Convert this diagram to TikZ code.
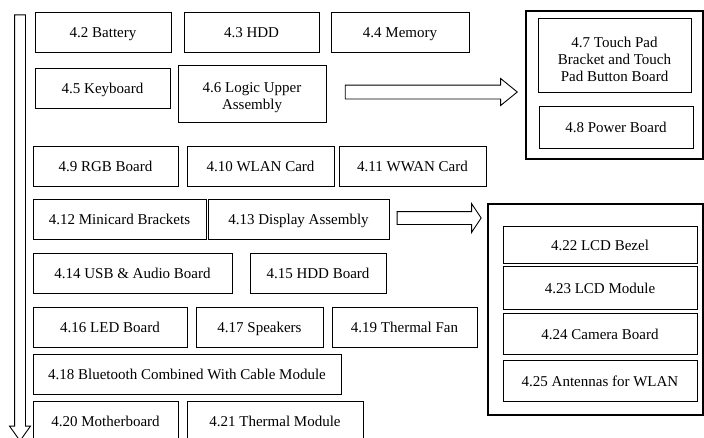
\documentclass[tikz,border=0pt]{standalone}
\usepackage{fontspec}
\setmainfont{Liberation Serif}
\usepackage{tikz}
\usetikzlibrary{arrows.meta,positioning,shapes.arrows}

\begin{document}
\begin{tikzpicture}[x=1pt, y=-1pt,
    font=\fontsize{15}{17}\selectfont,
    part/.style={draw, line width=0.9pt, minimum height=40pt, inner sep=2pt, text height=13pt, text depth=2pt},
    tallpart/.style={draw, line width=0.9pt, inner sep=2pt, align=center},
    group/.style={draw, line width=1.2pt, inner sep=0pt},
    blockarrow/.style={draw, line width=0.9pt, single arrow, inner xsep=0pt, single arrow head indent=0pt}]
    \useasboundingbox (0,0) rectangle (704,437);
    \clip (0,0) rectangle (704,437);

    % Freccia verticale di sequenza
    \node[blockarrow, rotate=-90, minimum height=426pt, inner ysep=5pt,
          single arrow head extend=5pt, single arrow tip angle=71] (seq) at (20,224) {};

    % Prima riga
    \node[part, minimum width=136pt] (bat) at (103,32) {4.2 Battery};
    \node[part, minimum width=135pt] (hdd) at (251.5,32) {4.3 HDD};
    \node[part, minimum width=138pt] (mem) at (400,32) {4.4 Memory};

    % Seconda riga
    \node[part, minimum width=135pt] (kbd) at (102.5,88) {4.5 Keyboard};
    \node[tallpart, minimum width=148pt, minimum height=57pt] (lua) at (252,93.5) {\rule{0pt}{19pt}4.6 Logic Upper\\Assembly};

    % Gruppo del gruppo superiore
    \node[group, minimum width=177pt, minimum height=148pt] (grp1) at (614.5,85) {};
    \node[tallpart, minimum width=153pt, minimum height=74pt] (tp) at (614.5,55) {\rule{0pt}{19pt}4.7 Touch Pad\\Bracket and Touch\\Pad Button Board};
    \node[part, minimum width=154pt, minimum height=42pt] (pwr) at (616,127) {4.8 Power Board};

    % Freccia verso il gruppo superiore
    \node[blockarrow, minimum height=172pt, inner ysep=6.5pt,
          single arrow head extend=6.5pt, single arrow tip angle=78] (arr1) at (427,92) {};

    % Terza riga
    \node[part, minimum width=145pt] (rgb) at (105.5,166) {4.9 RGB Board};
    \node[part, minimum width=147pt] (wlan) at (260.5,166) {4.10 WLAN Card};
    \node[part, minimum width=147pt] (wwan) at (412.5,166) {4.11 WWAN Card};

    % Quarta riga
    \node[part, minimum width=173pt] (mcb) at (119.5,219) {4.12 Minicard Brackets};
    \node[part, minimum width=181pt] (disp) at (298.5,219) {4.13 Display Assembly};

    % Freccia verso il gruppo display
    \node[blockarrow, minimum height=84pt, inner ysep=6pt,
          single arrow head extend=8pt, single arrow tip angle=113] (arr2) at (437,218) {};

    % Quinta riga
    \node[part, minimum width=199pt] (usb) at (132.5,273) {4.14 USB \& Audio Board};
    \node[part, minimum width=136pt] (hddb) at (318,273) {4.15 HDD Board};

    % Sesta riga
    \node[part, minimum width=154pt] (led) at (110,327) {4.16 LED Board};
    \node[part, minimum width=127pt] (spk) at (259.5,327) {4.17 Speakers};
    \node[part, minimum width=145pt] (fan) at (404.5,327) {4.19 Thermal Fan};

    % Settima riga
    \node[part, minimum width=308pt] (bt) at (187,374) {4.18 Bluetooth Combined With Cable Module};

    % Ultima riga
    \node[part, minimum width=145pt] (mb) at (105.5,421) {4.20 Motherboard};
    \node[part, minimum width=176pt] (tm) at (275,421) {4.21 Thermal Module};

    % Gruppo display
    \node[group, minimum width=215pt, minimum height=211pt] (grp2) at (595.5,309.5) {};
    \node[part, minimum width=194pt, minimum height=37pt] (bez) at (600,244.5) {4.22 LCD Bezel};
    \node[part, minimum width=194pt, minimum height=43pt] (lcd) at (600,287.5) {4.23 LCD Module};
    \node[part, minimum width=194pt, minimum height=41pt] (cam) at (600,333.5) {4.24 Camera Board};
    \node[part, minimum width=194pt, minimum height=41pt] (ant) at (600,380.5) {4.25 Antennas for WLAN};
\end{tikzpicture}
\end{document}
